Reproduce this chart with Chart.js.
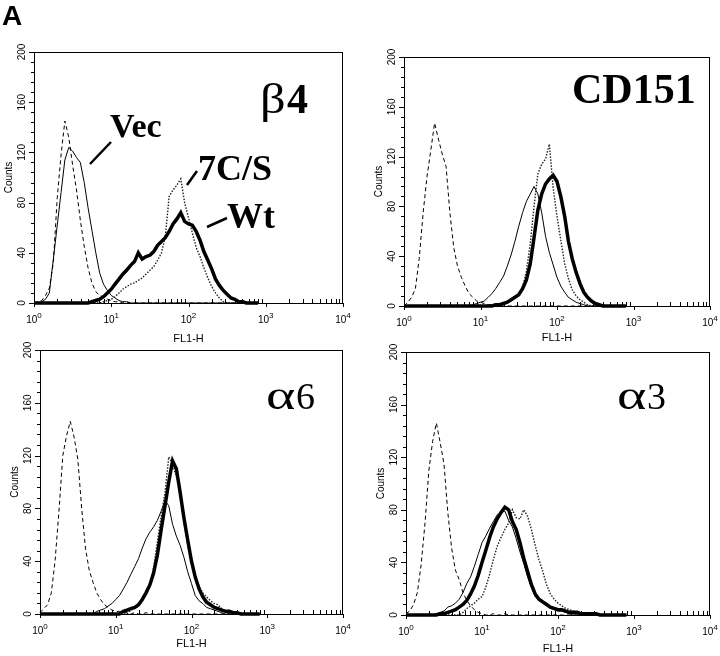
<!DOCTYPE html>
<html>
<head>
<meta charset="utf-8">
<title>Flow cytometry histograms</title>
<script src="https://cdn.jsdelivr.net/npm/chart.js@4.4.1/dist/chart.umd.min.js"></script>
<style>
  body { margin: 0; background: #fff; }
  #wrap { position: relative; width: 720px; height: 656px; }
  #wrap canvas { position: absolute; left: 0; top: 0; }
</style>
</head>
<body>
<div id="wrap">
  <canvas id="b4" width="720" height="656"></canvas>
  <canvas id="cd151" width="720" height="656"></canvas>
  <canvas id="a6" width="720" height="656"></canvas>
  <canvas id="a3" width="720" height="656"></canvas>
</div>
<script>
// FL1-H channels (fluorescence), shared by all histograms
const fl = [
  1.00, 1.12, 1.26, 1.41, 1.58, 1.78, 2.00, 2.24, 2.51, 2.82,
  3.16, 3.55, 3.98, 4.47, 5.01, 5.62, 6.31, 7.08, 7.94, 8.91,
  10.0, 11.2, 12.6, 14.1, 15.8, 17.8, 20.0, 22.4, 25.1, 28.2,
  31.6, 35.5, 39.8, 44.7, 50.1, 56.2, 63.1, 70.8, 79.4, 89.1,
  100, 112, 126, 141, 158, 178, 200, 224, 251, 282,
  316, 355, 398, 447, 501, 562, 631, 708, 794
];
const xTickVals = [1, 10, 100, 1000, 10000];
const xTickLabels = ['10^0', '10^1', '10^2', '10^3', '10^4'];
const yTickLabels = [0, 40, 80, 120, 160, 200];

// beta4 panel
const b4Neg = [
  0, 1, 2, 6, 12, 32, 84, 118, 145, 132,
  110, 90, 66, 45, 28, 16, 9, 6, 5, 3,
  2, 1, 1, 0, 1, 0, 0, 0, 0, 0,
  0, 0, 0, 0, 0, 0, 0, 0, 0, 0,
  0, 0, 0, 0, 0, 0, 0, 0, 0, 0,
  0, 0, 0, 0, 0, 0, 0, 0, 0
];
const b4Vec = [
  0, 0, 1, 3, 8, 35, 62, 88, 114, 124,
  121, 116, 112, 96, 76, 58, 40, 24, 15, 10,
  6, 4, 2, 1, 1, 0, 0, 0, 0, 0,
  0, 0, 0, 0, 0, 0, 0, 0, 0, 0,
  0, 0, 0, 0, 0, 0, 0, 0, 0, 0,
  0, 0, 0, 0, 0, 0, 0, 0, 0
];
const b4Wt = [
  0, 0, 0, 0, 0, 0, 0, 0, 0, 0,
  0, 0, 0, 0, 0, 1, 2, 3, 5, 8,
  11, 15, 19, 23, 26, 30, 33, 40, 35, 37,
  38, 41, 46, 49, 52, 57, 63, 67, 72, 65,
  63, 62, 57, 50, 41, 34, 27, 19, 14, 10,
  7, 4, 3, 1, 1, 0, 0, 0, 0
];
const b4Mut = [
  0, 0, 0, 0, 0, 0, 0, 0, 0, 0,
  0, 0, 0, 0, 0, 0, 0, 0, 1, 2,
  3, 5, 8, 11, 13, 15, 16, 18, 20, 23,
  26, 29, 34, 40, 53, 85, 90, 94, 99, 80,
  68, 56, 44, 37, 28, 20, 13, 8, 4, 1,
  0, 0, 0, 0, 0, 0, 0, 0, 0
];

// CD151 panel
const cdNeg = [
  0, 3, 7, 14, 38, 75, 104, 125, 147, 134,
  122, 112, 75, 47, 32, 23, 16, 10, 7, 4,
  3, 2, 1, 1, 0, 0, 1, 0, 0, 0,
  0, 0, 0, 0, 0, 0, 0, 0, 0, 0,
  0, 0, 0, 0, 0, 0, 0, 0, 0, 0,
  0, 0, 0, 0, 0, 0, 0, 0, 0
];
const cdVec = [
  0, 0, 0, 0, 0, 0, 0, 0, 0, 0,
  0, 0, 0, 0, 0, 0, 0, 0, 1, 2,
  3, 4, 7, 10, 14, 19, 24, 32, 41, 52,
  64, 75, 84, 90, 96, 90, 75, 56, 43, 33,
  23, 16, 11, 7, 5, 3, 2, 1, 0, 0,
  0, 0, 0, 0, 0, 0, 0, 0, 0
];
const cdWt = [
  0, 0, 0, 0, 0, 0, 0, 0, 0, 0,
  0, 0, 0, 0, 0, 0, 0, 0, 0, 0,
  0, 0, 0, 0, 1, 1, 2, 3, 5, 7,
  9, 14, 21, 34, 55, 77, 90, 98, 102, 105,
  100, 88, 72, 52, 38, 27, 18, 11, 7, 4,
  2, 1, 0, 0, 0, 0, 0, 0, 0
];
const cdMut = [
  0, 0, 0, 0, 0, 0, 0, 0, 0, 0,
  0, 0, 0, 0, 0, 0, 0, 0, 0, 0,
  0, 0, 0, 0, 1, 1, 2, 3, 4, 7,
  10, 15, 28, 50, 80, 106, 114, 118, 130, 95,
  72, 53, 34, 22, 13, 8, 5, 3, 1, 0,
  0, 0, 0, 0, 0, 0, 0, 0, 0
];

// alpha6 panel
const a6Neg = [
  1, 4, 7, 16, 40, 78, 120, 135, 146, 134,
  117, 80, 50, 33, 24, 16, 11, 7, 5, 3,
  2, 2, 1, 1, 0, 1, 0, 0, 1, 0,
  0, 0, 0, 0, 0, 0, 0, 0, 0, 0,
  0, 0, 0, 0, 0, 0, 0, 0, 0, 0,
  0, 0, 0, 0, 0, 0, 0, 0, 0
];
const a6Vec = [
  0, 0, 0, 0, 0, 0, 0, 0, 0, 0,
  0, 0, 0, 0, 0, 2, 3, 4, 6, 8,
  11, 14, 19, 24, 30, 36, 42, 50, 57, 62,
  66, 71, 78, 86, 82, 68, 59, 52, 43, 32,
  23, 14, 10, 8, 5, 4, 3, 2, 1, 0,
  0, 0, 0, 0, 0, 0, 0, 0, 0
];
const a6Wt = [
  0, 0, 0, 0, 0, 0, 0, 0, 0, 0,
  0, 0, 0, 0, 0, 0, 0, 0, 0, 0,
  0, 0, 2, 3, 4, 5, 7, 11, 16, 22,
  31, 45, 64, 82, 100, 116, 110, 92, 73, 56,
  40, 28, 19, 13, 9, 7, 5, 4, 3, 2,
  2, 1, 1, 0, 0, 0, 0, 0, 0
];
const a6Mut = [
  0, 0, 0, 0, 0, 0, 0, 0, 0, 0,
  0, 0, 0, 0, 0, 0, 0, 0, 0, 0,
  0, 0, 0, 0, 3, 4, 6, 10, 15, 22,
  35, 55, 74, 92, 119, 114, 104, 96, 70, 52,
  38, 28, 21, 16, 13, 10, 8, 7, 4, 2,
  1, 0, 0, 0, 0, 0, 0, 0, 0
];

// alpha3 panel
const a3Neg = [
  1, 3, 8, 17, 38, 70, 110, 132, 146, 131,
  115, 78, 51, 34, 27, 17, 11, 7, 4, 2,
  1, 0, 0, 1, 0, 0, 1, 0, 0, 0,
  0, 0, 0, 0, 0, 0, 0, 0, 0, 0,
  0, 0, 0, 0, 0, 0, 0, 0, 0, 0,
  0, 0, 0, 0, 0, 0, 0, 0, 0
];
const a3Vec = [
  0, 0, 0, 0, 0, 0, 0, 0, 1, 2,
  3, 6, 7, 9, 12, 17, 24, 29, 37, 46,
  55, 60, 66, 71, 76, 78, 79, 72, 67, 58,
  48, 39, 29, 21, 14, 11, 9, 7, 5, 4,
  3, 3, 2, 1, 0, 0, 0, 0, 0, 0,
  0, 0, 0, 0, 0, 0, 0, 0, 0
];
const a3Wt = [
  0, 0, 0, 0, 0, 0, 0, 0, 0, 1,
  1, 2, 3, 4, 6, 8, 11, 16, 22, 30,
  40, 49, 59, 67, 73, 78, 82, 80, 71, 65,
  55, 43, 33, 23, 16, 12, 10, 8, 6, 5,
  4, 4, 3, 2, 2, 2, 1, 1, 1, 1,
  1, 0, 0, 0, 0, 0, 0, 0, 0
];
const a3Mut = [
  0, 0, 0, 0, 0, 0, 0, 0, 0, 0,
  0, 0, 0, 0, 0, 2, 5, 7, 9, 12,
  14, 21, 31, 42, 52, 59, 65, 70, 80, 74,
  73, 80, 75, 65, 53, 42, 33, 23, 16, 12,
  9, 7, 5, 4, 3, 2, 1, 0, 0, 0,
  0, 0, 0, 0, 0, 0, 0, 0, 0
];

const sans = '"Liberation Sans", Arial, sans-serif';
const serif = '"Liberation Serif", "Times New Roman", serif';
Chart.defaults.font.family = sans;
Chart.defaults.color = '#000';

// frame, tick marks, axis numbers and panel annotations
const deco = (notes, pointers) => ({
  id: 'deco',
  afterDraw(chart) {
    const { ctx, chartArea: a, scales: { x, y } } = chart;
    ctx.save();
    ctx.strokeStyle = '#000';
    ctx.fillStyle = '#000';
    ctx.lineWidth = 1;
    ctx.strokeRect(a.left + 0.5, a.top + 0.5, a.right - a.left - 1, a.bottom - a.top);

    ctx.beginPath();
    for (let v = 0; v <= 200; v += 8) {
      const py = Math.round(y.getPixelForValue(v)) + 0.5;
      const len = v % 40 === 0 ? 5 : 3;
      ctx.moveTo(a.left - len, py);
      ctx.lineTo(a.left, py);
    }
    for (let d = 1; d <= 10000; d *= 10) {
      const px = Math.round(x.getPixelForValue(d)) + 0.5;
      ctx.moveTo(px, a.bottom);
      ctx.lineTo(px, a.bottom + 4);
      if (d < 10000) {
        for (let k = 2; k < 10; k++) {
          const mx = Math.round(x.getPixelForValue(d * k)) + 0.5;
          ctx.moveTo(mx, a.bottom);
          ctx.lineTo(mx, a.bottom - 4);
        }
      }
    }
    ctx.stroke();

    // y numbers, rotated like the cytometer output
    ctx.font = '10px ' + sans;
    ctx.textAlign = 'center';
    ctx.textBaseline = 'middle';
    yTickLabels.forEach(v => {
      ctx.save();
      ctx.translate(a.left - 12, y.getPixelForValue(v));
      ctx.rotate(-Math.PI / 2);
      ctx.fillText(String(v), 0, 0);
      ctx.restore();
    });

    // x numbers as 10 with a raised exponent
    ctx.textAlign = 'left';
    ctx.textBaseline = 'alphabetic';
    xTickVals.forEach((v, i) => {
      const [base, exp] = xTickLabels[i].split('^');
      ctx.font = '10px ' + sans;
      const w1 = ctx.measureText(base).width;
      ctx.font = '8px ' + sans;
      const w2 = ctx.measureText(exp).width;
      const sx = x.getPixelForValue(v) - (w1 + w2) / 2;
      ctx.font = '10px ' + sans;
      ctx.fillText(base, sx, a.bottom + 20);
      ctx.font = '8px ' + sans;
      ctx.fillText(exp, sx + w1, a.bottom + 15);
    });

    notes.forEach(([t, tx, ty, f, sc]) => {
      ctx.save();
      ctx.font = f;
      ctx.translate(tx, ty);
      ctx.scale(sc || 1, 1);
      ctx.fillText(t, 0, 0);
      ctx.restore();
    });

    ctx.lineWidth = 2.5;
    ctx.beginPath();
    pointers.forEach(([x1, y1, x2, y2]) => {
      ctx.moveTo(x1, y1);
      ctx.lineTo(x2, y2);
    });
    ctx.stroke();
    ctx.restore();
  }
});

function histo(id, series, box, xH, notes, pointers) {
  const [wt, mut, vec, neg] = series;
  const pts = arr => fl.map((v, i) => ({ x: v, y: arr[i] }));
  new Chart(document.getElementById(id), {
    type: 'line',
    data: {
      datasets: [
        { label: 'Wt', data: pts(wt), borderWidth: 3.5 },
        { label: '7C/S', data: pts(mut), borderWidth: 1.4, borderDash: [1.5, 1.5], borderColor: '#222' },
        { label: 'Vec', data: pts(vec), borderWidth: 1 },
        { label: 'control', data: pts(neg), borderWidth: 1, borderDash: [4, 3] }
      ]
    },
    options: {
      responsive: false,
      animation: false,
      devicePixelRatio: 1,
      events: [],
      layout: {
        padding: { left: box[0] - 31, top: box[1], right: 720 - box[2], bottom: 656 - box[3] - xH }
      },
      elements: {
        point: { radius: 0 },
        line: { borderColor: '#000', tension: 0 }
      },
      datasets: { line: { clip: 3 } },
      plugins: { legend: { display: false }, tooltip: { enabled: false } },
      scales: {
        x: {
          type: 'logarithmic',
          min: 1,
          max: 10000,
          grid: { display: false },
          border: { display: false },
          afterBuildTicks: s => { s.ticks = xTickVals.map(v => ({ value: v })); },
          afterFit: s => { s.height = xH; s.paddingLeft = 0; s.paddingRight = 0; },
          ticks: { autoSkip: false, maxRotation: 0, callback: () => '' },
          title: { display: true, text: 'FL1-H', font: { size: 11 }, padding: { top: 0, bottom: 0 } }
        },
        y: {
          min: 0,
          max: 200,
          grid: { display: false },
          border: { display: false },
          afterFit: s => { s.width = 31; s.paddingTop = 0; s.paddingBottom = 0; },
          ticks: { stepSize: 40, callback: () => '' },
          title: { display: true, text: 'Counts', font: { size: 10 }, padding: { top: 0, bottom: 0 } }
        }
      }
    },
    plugins: [deco(notes, pointers)]
  });
}

histo('b4', [b4Wt, b4Mut, b4Vec, b4Neg], [34, 52, 343, 303], 43, [
  ['A', 2, 25, 'bold 28px ' + sans],
  ['\u03b2', 260, 113, '42px ' + serif, 1.2],
  ['4', 287, 113, 'bold 42px ' + serif],
  ['Vec', 110, 137, 'bold 34px ' + serif],
  ['7C/S', 198, 180, 'bold 36px ' + serif],
  ['Wt', 227, 228, 'bold 36px ' + serif]
], [[90, 164, 111, 142], [187, 185, 197, 171], [207, 227, 227, 218]]);

histo('cd151', [cdWt, cdMut, cdVec, cdNeg], [404, 57, 710, 306], 39, [
  ['CD151', 572, 103, 'bold 42px ' + serif]
], []);

histo('a6', [a6Wt, a6Mut, a6Vec, a6Neg], [40, 350, 343, 614], 37, [
  ['\u03b1', 266, 409, '40px ' + serif, 1.4],
  ['6', 296, 409, '38px ' + serif]
], []);

histo('a3', [a3Wt, a3Mut, a3Vec, a3Neg], [406, 352, 710, 615], 41, [
  ['\u03b1', 617, 409, '40px ' + serif, 1.4],
  ['3', 647, 409, '38px ' + serif]
], []);
</script>
</body>
</html>
